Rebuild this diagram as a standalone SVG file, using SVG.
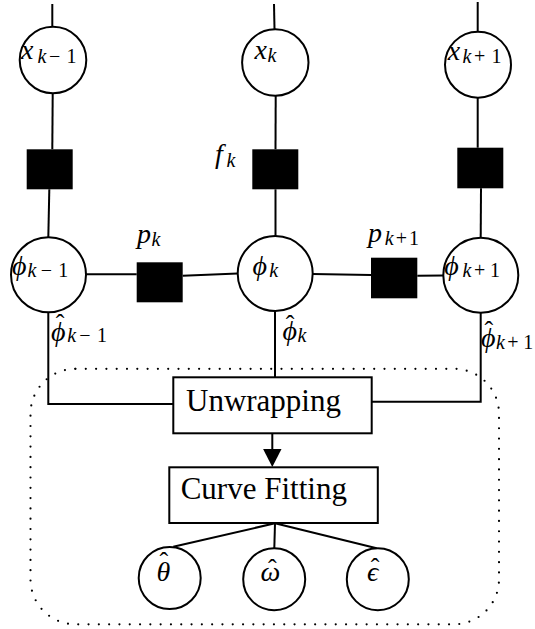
<svg xmlns="http://www.w3.org/2000/svg" width="535" height="629" viewBox="0 0 535 629">
<style>
.ln{stroke:#000;stroke-width:2;fill:none}
.nd{stroke:#000;stroke-width:2;fill:#fff}
.fac{fill:#000;stroke:none}
.box{stroke:#000;stroke-width:2;fill:#fff}
.m{font-family:"Liberation Serif","DejaVu Serif",serif;font-style:italic;font-size:28px;fill:#000}
.s{font-size:20px}
.u{font-style:normal}
.h{font-style:normal;font-size:26px}
.t{font-family:"Liberation Serif","DejaVu Serif",serif;font-size:31px;fill:#000}
.dot{stroke:#000;stroke-width:2.2;fill:none;stroke-dasharray:0 10.3;stroke-linecap:round}
</style>
<g id="group-box">
<rect class="dot" x="30.5" y="368.8" width="468.5" height="255.5" rx="45" ry="45"/>
</g>
<g id="connectors">
<path class="ln" d="M52.3,4 L52.3,26.7"/>
<path class="ln" d="M52.7,93.3 L52.3,149.3"/>
<path class="ln" d="M49.3,189.3 L48.3,237.3"/>
<path class="ln" d="M48.3,312.3 L48.3,404 L173.3,404"/>
<path class="ln" d="M274,4 L274.5,29.3"/>
<path class="ln" d="M275.7,95.7 L275.5,149.3"/>
<path class="ln" d="M275.5,189.3 L275.5,236"/>
<path class="ln" d="M275,311 L275,377.3"/>
<path class="ln" d="M477.7,2 L477.7,31.7"/>
<path class="ln" d="M477.7,97.7 L477.7,147.7"/>
<path class="ln" d="M481,188.3 L480.7,238"/>
<path class="ln" d="M480.7,312.8 L480.7,401.7 L371.7,401.7"/>
<path class="ln" d="M86,274.3 L136.7,274.3"/>
<path class="ln" d="M182.7,275.7 L237.7,273.5"/>
<path class="ln" d="M312.7,274 L371,275"/>
<path class="ln" d="M417.3,275.7 L443.3,275.5"/>
<path class="ln" d="M272.3,433.3 L272.3,449"/>
<path d="M263.1,449 L281.5,449 L272.3,467 z" fill="#000"/>
<path class="ln" d="M275,523.3 L173.3,546.7"/>
<path class="ln" d="M275,523.3 L274.3,548.3"/>
<path class="ln" d="M275,523.3 L376.7,548.3"/>
</g>
<g id="x_km1"><circle class="nd" cx="53" cy="60" r="33.3"/><text class="m" x="21" y="58.5">x<tspan class="s" x="37.5" y="62.5">k</tspan><tspan class="s u" x="49">−</tspan><tspan class="s u" x="66.5">1</tspan></text></g>
<g id="x_k"><circle class="nd" cx="275.3" cy="62.5" r="33.2"/><text class="m" x="254.5" y="58.5">x<tspan class="s" x="267.5" y="61.5">k</tspan></text></g>
<g id="x_kp1"><circle class="nd" cx="478" cy="64.7" r="33"/><text class="m" x="447.8" y="59.5">x<tspan class="s" x="462.5" y="63">k</tspan><tspan class="s u" x="474">+</tspan><tspan class="s u" x="491.5">1</tspan></text></g>
<g id="f_km1"><rect class="fac" x="26.7" y="149.3" width="46" height="40"/></g>
<g id="f_k"><rect class="fac" x="252.3" y="149.3" width="46" height="40"/><text class="m" x="215" y="163">f<tspan class="s" x="226.5" y="166.5">k</tspan></text></g>
<g id="f_kp1"><rect class="fac" x="457.3" y="147.7" width="46" height="40.6"/></g>
<g id="phi_km1"><circle class="nd" cx="48.5" cy="274.8" r="37.5"/><text class="m" x="12" y="275">ϕ<tspan class="s" x="27.5" y="277">k</tspan><tspan class="s u" x="40.7">−</tspan><tspan class="s u" x="58.2">1</tspan></text></g>
<g id="phi_k"><circle class="nd" cx="275.2" cy="273.5" r="37.5"/><text class="m" x="252.6" y="275">ϕ<tspan class="s" x="269.2" y="277">k</tspan></text></g>
<g id="phi_kp1"><circle class="nd" cx="480.8" cy="275.3" r="37.5"/><text class="m" x="444.3" y="275">ϕ<tspan class="s" x="462.5" y="277">k</tspan><tspan class="s u" x="474">+</tspan><tspan class="s u" x="490">1</tspan></text></g>
<g id="p_k"><rect class="fac" x="136.7" y="262.3" width="46" height="40"/><text class="m" x="137" y="243">p<tspan class="s" x="151.5" y="246">k</tspan></text></g>
<g id="p_kp1"><rect class="fac" x="371" y="257.7" width="46.3" height="40.6"/><text class="m" x="368" y="241.5">p<tspan class="s" x="384.8" y="244.5">k</tspan><tspan class="s u" x="395.7">+</tspan><tspan class="s u" x="409">1</tspan></text></g>
<g id="phihat_km1"><text class="m" x="51" y="340.5">ϕ<tspan class="h" x="55.7" y="331.8">ˆ</tspan><tspan class="s" x="67.3" y="342">k</tspan><tspan class="s u" x="79.3">−</tspan><tspan class="s u" x="97">1</tspan></text></g>
<g id="phihat_k"><text class="m" x="282.6" y="340">ϕ<tspan class="h" x="285.7" y="332.5">ˆ</tspan><tspan class="s" x="297.6" y="342">k</tspan></text></g>
<g id="phihat_kp1"><text class="m" x="481" y="347">ϕ<tspan class="h" x="484.4" y="339.2">ˆ</tspan><tspan class="s" x="496" y="349">k</tspan><tspan class="s u" x="507.3">+</tspan><tspan class="s u" x="523.3">1</tspan></text></g>
<g id="unwrapping"><rect class="box" x="173.3" y="377.3" width="198.4" height="56"/><text class="t" x="186" y="410.7">Unwrapping</text></g>
<g id="curve-fitting"><rect class="box" x="169.3" y="467.3" width="208.5" height="55.7"/><text class="t" x="180.7" y="499.3">Curve Fitting</text></g>
<g id="theta"><circle class="nd" cx="169.7" cy="578" r="31"/><text class="m" x="156.5" y="580.5">θ<tspan class="h" x="159.4" y="569.8">ˆ</tspan></text></g>
<g id="omega"><circle class="nd" cx="274.2" cy="579.2" r="31"/><text class="m" x="260.5" y="580.5" font-size="32">ω<tspan class="h" x="268" y="576.5">ˆ</tspan></text></g>
<g id="epsilon"><circle class="nd" cx="377.8" cy="579.2" r="31"/><text class="m" x="367" y="580.5">ϵ<tspan class="h" x="370.7" y="575.8">ˆ</tspan></text></g>
</svg>
